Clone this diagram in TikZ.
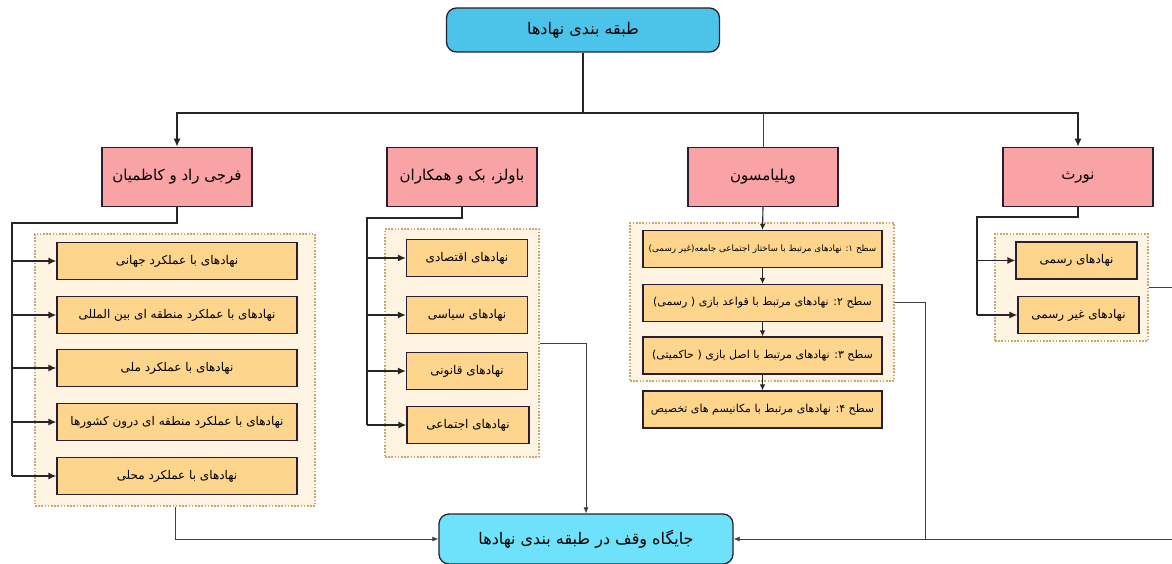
\documentclass[tikz,border=0pt]{standalone}
\usepackage{fontspec}
\usetikzlibrary{arrows.meta}
\TeXXeTstate=1
\newfontfamily\arfont[Script=Arabic]{DejaVu Sans}
\definecolor{pinkf}{HTML}{F9A3A6}
\definecolor{edgec}{HTML}{2A1E33}
\definecolor{orangef}{HTML}{FDD58D}
\definecolor{groupf}{HTML}{FFF3E1}
\definecolor{groupd}{HTML}{C6A86E}
\definecolor{topf}{HTML}{4CC4EA}
\definecolor{botf}{HTML}{6DE2FA}
\definecolor{thinc}{HTML}{404040}
\tikzset{
  pinkbox/.style={draw=edgec, line width=1.5pt, fill=pinkf, minimum width=150pt, minimum height=59pt, font=\arfont\fontsize{15}{17}\selectfont, inner sep=2pt},
  subbox/.style={draw=edgec, line width=1.1pt, fill=orangef, minimum height=37pt, font=\arfont\fontsize{12}{14}\selectfont, inner sep=1pt},
  groupbox/.style={draw=groupd, line width=1.3pt, dash pattern=on 1.6pt off 1.6pt, fill=groupf, inner sep=0pt},
  topbox/.style={draw=edgec, line width=1.3pt, fill=topf, rounded corners=10pt, minimum width=273pt, minimum height=44pt, font=\arfont\fontsize{16}{18}\selectfont},
  botbox/.style={draw=edgec, line width=1.3pt, fill=botf, rounded corners=10pt, minimum width=294pt, minimum height=50pt, font=\arfont\fontsize{16}{18}\selectfont},
  thickline/.style={draw=black!85, line width=1.5pt},
  thickarr/.style={thickline, -{Latex[length=8pt,width=7pt]}},
  medarr/.style={draw=black!85, line width=1.1pt, -{Latex[length=6pt,width=5.5pt]}},
  thinline/.style={draw=thinc, line width=0.7pt},
  thinarr/.style={thinline, -{Latex[length=6pt,width=5pt]}}
}
\begin{document}
\begin{tikzpicture}[x=1pt,y=-1pt]
\useasboundingbox (0,0) rectangle (1172,564);
\fill[white] (0,0) rectangle (1172,564);

% group containers
\node[groupbox, minimum width=280pt, minimum height=272pt] (fg) at (175,370) {};
\node[groupbox, minimum width=154pt, minimum height=228pt] (bg) at (462,343) {};
\node[groupbox, minimum width=264pt, minimum height=158pt] (wg) at (762,302) {};
\node[groupbox, minimum width=153pt, minimum height=107pt] (ng) at (1071.5,287.5) {};

% top and bottom
\node[topbox] (top) at (583,30) {\beginR طبقه بندی نهادها\endR};
\node[botbox] (bot) at (586,539) {\beginR جایگاه وقف در طبقه بندی نهادها\endR};

% pink boxes
\node[pinkbox] (farji) at (177,177) {\beginR فرجی راد و کاظمیان\endR};
\node[pinkbox] (bawolz) at (462,177) {\beginR باولز، بک و همکاران\endR};
\node[pinkbox] (will) at (763,177) {\beginR ویلیامسون\endR};
\node[pinkbox] (nort) at (1078,177) {\beginR نورث\endR};

% farji sub boxes
\node[subbox, minimum width=240pt] (fb1) at (177,261) {\beginR نهادهای با عملکرد جهانی\endR};
\node[subbox, minimum width=240pt] (fb2) at (177,315) {\beginR نهادهای با عملکرد منطقه ای بین المللی\endR};
\node[subbox, minimum width=240pt] (fb3) at (177,368) {\beginR نهادهای با عملکرد ملی\endR};
\node[subbox, minimum width=240pt] (fb4) at (177,422) {\beginR نهادهای با عملکرد منطقه ای درون کشورها\endR};
\node[subbox, minimum width=240pt] (fb5) at (177,476) {\beginR نهادهای با عملکرد محلی\endR};

% bawolz sub boxes
\node[subbox, minimum width=121pt] (bb1) at (467,258) {\beginR نهادهای اقتصادی\endR};
\node[subbox, minimum width=121pt] (bb2) at (467,315) {\beginR نهادهای سیاسی\endR};
\node[subbox, minimum width=121pt] (bb3) at (467,371) {\beginR نهادهای قانونی\endR};
\node[subbox, minimum width=122pt] (bb4) at (468,425) {\beginR نهادهای اجتماعی\endR};

% williamson sub boxes
\node[subbox, minimum width=239pt, font=\arfont\fontsize{8.8}{10}\selectfont] (wb1) at (762.5,249) {\beginR سطح ۱: نهادهای مرتبط با ساختار اجتماعی جامعه(غیر رسمی)\endR};
\node[subbox, minimum width=239pt, font=\arfont\fontsize{11}{13}\selectfont] (wb2) at (762.5,303) {\beginR سطح ۲: نهادهای مرتبط با قواعد بازی ( رسمی)\endR};
\node[subbox, minimum width=239pt, font=\arfont\fontsize{11}{13}\selectfont] (wb3) at (762.5,355.5) {\beginR سطح ۳: نهادهای مرتبط با اصل بازی ( حاکمیتی)\endR};
\node[subbox, minimum width=239pt, font=\arfont\fontsize{11}{13}\selectfont] (wb4) at (762.5,409.5) {\beginR سطح ۴: نهادهای مرتبط با مکانیسم های تخصیص\endR};

% nort sub boxes
\node[subbox, minimum width=121pt] (nb1) at (1076.5,260.5) {\beginR نهادهای رسمی\endR};
\node[subbox, minimum width=121pt] (nb2) at (1078.5,315) {\beginR نهادهای غیر رسمی\endR};

% top bus
\coordinate (bus) at (583,113);
\draw[thickline] (top.south) -- (bus);
\draw[thickarr] (bus) -| (farji.north);
\draw[thickarr] (bus) -| (nort.north);
\draw[thinline] (will.north) -- (will.north |- bus);

% farji branch
\coordinate (fl) at (12,223);
\draw[thickline] (farji.south) -- (farji.south |- fl) -- (fl) -- (fl |- fb5.west);
\foreach \b in {fb1,fb2,fb3,fb4,fb5} \draw[thickarr] (fl |- \b.west) -- (\b.west);

% bawolz branch
\coordinate (bl) at (367,218);
\draw[thickline] (bawolz.south) -- (bawolz.south |- bl) -- (bl) -- (bl |- bb4.west);
\foreach \b in {bb1,bb2,bb3,bb4} \draw[thickarr] (bl |- \b.west) -- (\b.west);

% williamson chain
\draw[medarr] (will.south) -- (wb1.north);
\draw[medarr] (wb1.south) -- (wb2.north);
\draw[medarr] (wb2.south) -- (wb3.north);
\draw[medarr] (wb3.south) -- (wb4.north);

% nort branch
\coordinate (nl) at (977,217);
\draw[thickline] (nort.south) -- (nort.south |- nl) -- (nl) -- (nl |- nb2.west);
\foreach \b in {nb1,nb2} \draw[thickarr] (nl |- \b.west) -- (\b.west);

% connectors to bottom node
\draw[thinarr] (fg.south) |- (bot.west);
\draw[thinarr] (bg.east) -| (bot.north);
\coordinate (wj) at (925,539);
\draw[thinline] (wg.east) -| (wj);
\coordinate (nr) at (1182,287.5);
\draw[thinarr] (ng.east) -- (nr) |- (bot.east);
\end{tikzpicture}
\end{document}
